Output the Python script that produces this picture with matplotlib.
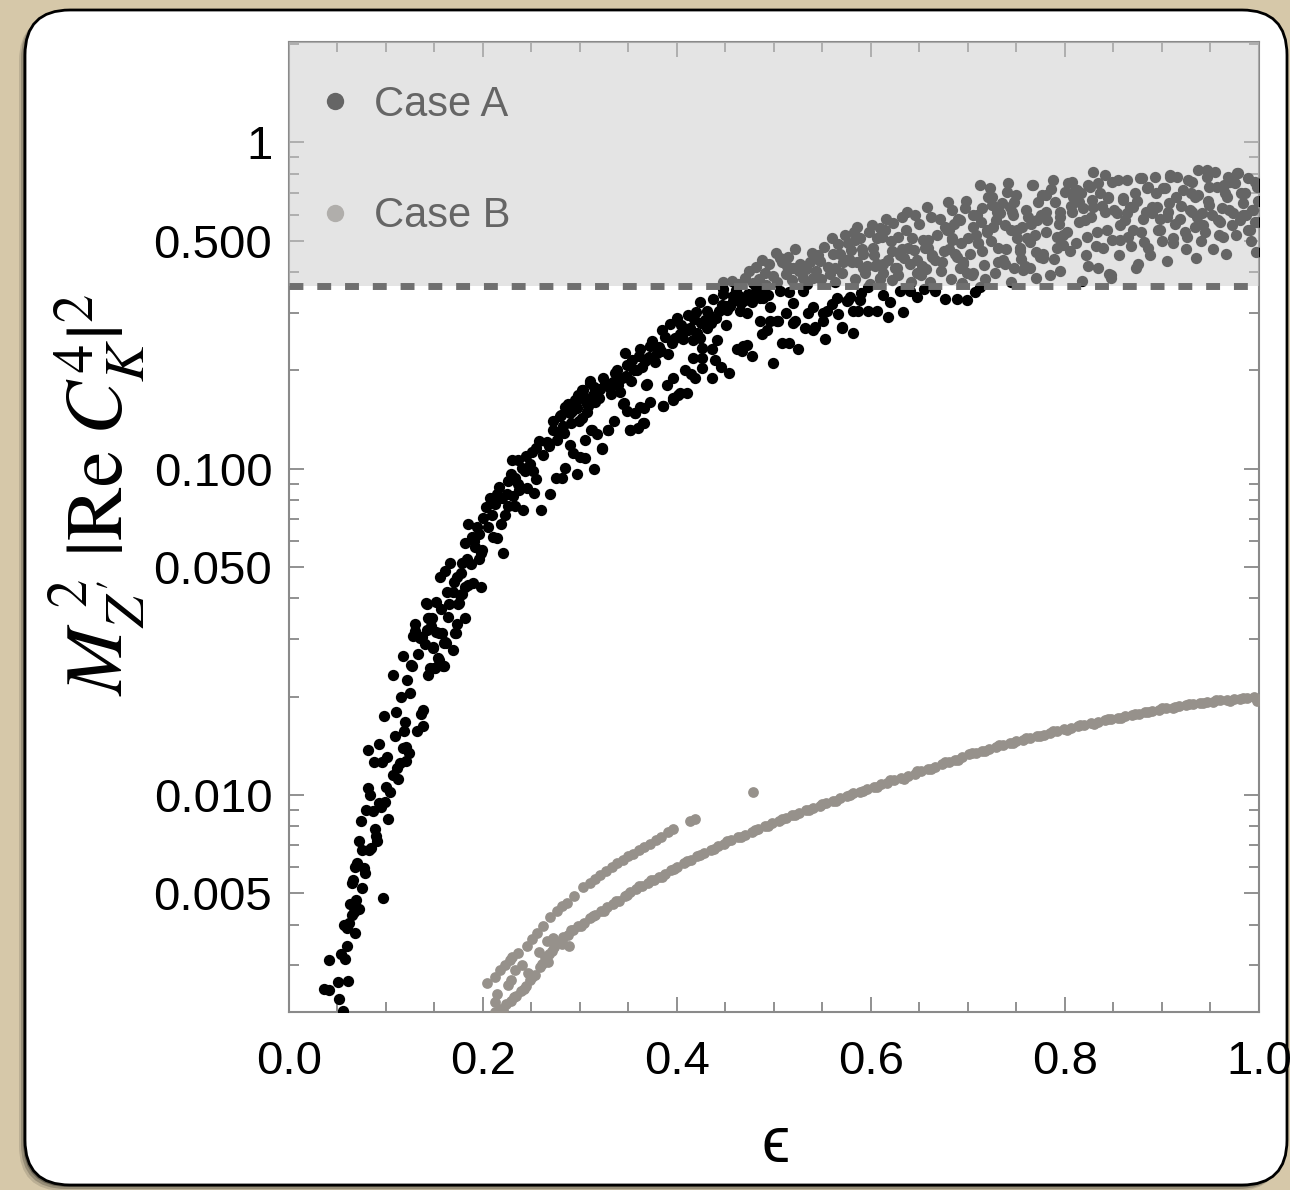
import matplotlib
matplotlib.use("Agg")
import matplotlib.pyplot as plt
from matplotlib.patches import FancyBboxPatch
from matplotlib.lines import Line2D
from matplotlib.ticker import MultipleLocator, LogLocator, NullFormatter, FixedFormatter, FixedLocator

plt.rcParams['font.family'] = ['Liberation Sans', 'DejaVu Sans']
plt.rcParams['mathtext.fontset'] = 'stix'

# ---- data: (epsilon, M^2 |Re C_K^4|^2) ----
case_a_low = [
    (0.036, 0.00254), (0.041, 0.00252), (0.052, 0.00237), (0.056, 0.00217), (0.051, 0.00267), (0.061, 0.00269),
    (0.041, 0.00312), (0.054, 0.00326), (0.058, 0.00315), (0.060, 0.00344), (0.068, 0.00377), (0.060, 0.00391),
    (0.062, 0.00405), (0.065, 0.00428), (0.067, 0.00437), (0.072, 0.00447), (0.063, 0.00464), (0.069, 0.00477),
    (0.097, 0.00483), (0.075, 0.00518), (0.065, 0.00537), (0.066, 0.00549), (0.078, 0.00574), (0.077, 0.00596),
    (0.070, 0.00617), (0.083, 0.00678), (0.075, 0.00678), (0.085, 0.00688), (0.072, 0.00720), (0.091, 0.00723),
    (0.089, 0.00786), (0.090, 0.00748), (0.074, 0.00833), (0.102, 0.00846), (0.087, 0.00895), (0.095, 0.00915),
    (0.099, 0.00953), (0.093, 0.00945), (0.081, 0.0105), (0.100, 0.0106), (0.104, 0.0102), (0.107, 0.0115),
    (0.112, 0.0112), (0.111, 0.0121), (0.114, 0.0125), (0.121, 0.0127), (0.088, 0.0126), (0.096, 0.0126),
    (0.101, 0.0131), (0.082, 0.0137), (0.093, 0.0143), (0.118, 0.0139), (0.124, 0.0134), (0.121, 0.0140),
    (0.109, 0.0151), (0.119, 0.0157), (0.132, 0.0157), (0.138, 0.0162), (0.136, 0.0177), (0.120, 0.0167),
    (0.098, 0.0174), (0.138, 0.0182), (0.125, 0.0205), (0.107, 0.0233), (0.127, 0.0249), (0.118, 0.0266),
    (0.143, 0.0233), (0.150, 0.0244), (0.155, 0.0259), (0.160, 0.0249), (0.149, 0.0282), (0.169, 0.0278),
    (0.162, 0.0292), (0.142, 0.0385), (0.152, 0.0391), (0.165, 0.0385), (0.174, 0.0385), (0.169, 0.0418),
    (0.176, 0.0411), (0.181, 0.0435), (0.190, 0.0445), (0.198, 0.0435), (0.143, 0.0348), (0.147, 0.0348),
    (0.164, 0.0351), (0.173, 0.0334), (0.182, 0.0348), (0.171, 0.0313), (0.155, 0.0313), (0.130, 0.0318),
    (0.128, 0.0307), (0.135, 0.0303), (0.148, 0.0283), (0.160, 0.0293), (0.145, 0.0245), (0.151, 0.0245),
    (0.159, 0.0249), (0.126, 0.0250), (0.154, 0.0262), (0.161, 0.0294), (0.172, 0.0313), (0.130, 0.0334),
    (0.131, 0.0311), (0.137, 0.0304), (0.142, 0.0321), (0.152, 0.0316), (0.158, 0.0313), (0.144, 0.0349),
    (0.141, 0.0388), (0.175, 0.0388), (0.178, 0.0412), (0.156, 0.0465), (0.161, 0.0487), (0.166, 0.0513),
    (0.173, 0.0465), (0.185, 0.0439), (0.178, 0.0513), (0.188, 0.0509), (0.196, 0.0528), (0.182, 0.0593),
    (0.192, 0.0575), (0.199, 0.0562), (0.189, 0.0616), (0.196, 0.0631), (0.185, 0.0677), (0.194, 0.0660),
    (0.198, 0.0552),
    (0.110, 0.0180), (0.115, 0.0200), (0.122, 0.0225), (0.133, 0.0270), (0.140, 0.0290), (0.146, 0.0330),
    (0.157, 0.0370), (0.163, 0.0420), (0.170, 0.0450), (0.177, 0.0480), (0.184, 0.0530), (0.191, 0.0600),
    (0.079, 0.0090), (0.084, 0.0100), (0.068, 0.0060), (0.057, 0.0040),
]

case_a_mid = [
    (0.200, 0.0707), (0.205, 0.0660), (0.210, 0.0616), (0.214, 0.0614), (0.221, 0.0552), (0.219, 0.0677),
    (0.207, 0.0814), (0.214, 0.0838), (0.212, 0.0781), (0.220, 0.0813), (0.226, 0.0766), (0.233, 0.0766),
    (0.241, 0.0748), (0.226, 0.0918), (0.225, 0.0838), (0.231, 0.0826), (0.237, 0.0859), (0.245, 0.0875),
    (0.253, 0.0841), (0.260, 0.0748), (0.233, 0.0937), (0.240, 0.1001), (0.230, 0.1066), (0.236, 0.1066),
    (0.244, 0.1090), (0.251, 0.1123), (0.255, 0.0929), (0.269, 0.0838), (0.275, 0.0937), (0.282, 0.0937),
    (0.285, 0.1005), (0.297, 0.0963), (0.293, 0.1114), (0.300, 0.1085), (0.305, 0.1075), (0.315, 0.1000),
    (0.323, 0.1151), (0.312, 0.1310), (0.329, 0.1310), (0.352, 0.1310), (0.360, 0.1335), (0.366, 0.1384),
    (0.357, 0.1477), (0.366, 0.1529), (0.386, 0.1554), (0.396, 0.1628), (0.401, 0.1675), (0.345, 0.1589),
    (0.341, 0.1715), (0.369, 0.1812), (0.255, 0.1155), (0.258, 0.1218), (0.266, 0.1203), (0.272, 0.1315),
    (0.278, 0.1281), (0.284, 0.1281), (0.272, 0.1404), (0.279, 0.1453), (0.290, 0.1477), (0.297, 0.1529),
    (0.302, 0.1433), (0.307, 0.1486), (0.296, 0.1617), (0.305, 0.1641), (0.313, 0.1675), (0.321, 0.1748),
    (0.310, 0.1828), (0.302, 0.1737), (0.326, 0.1828), (0.334, 0.1840),
    (0.285, 0.154), (0.295, 0.162), (0.303, 0.174), (0.310, 0.186), (0.320, 0.165), (0.327, 0.182),
    (0.336, 0.196), (0.346, 0.226), (0.354, 0.215), (0.362, 0.233), (0.372, 0.238), (0.379, 0.226),
    (0.385, 0.265), (0.393, 0.278), (0.400, 0.289), (0.403, 0.259), (0.411, 0.295), (0.420, 0.301),
    (0.424, 0.323), (0.431, 0.305), (0.437, 0.332), (0.447, 0.344), (0.458, 0.339), (0.451, 0.316),
    (0.465, 0.305), (0.472, 0.299), (0.477, 0.323), (0.486, 0.334), (0.496, 0.312), (0.482, 0.359),
    (0.506, 0.351), (0.516, 0.347), (0.520, 0.321), (0.530, 0.351), (0.540, 0.312), (0.555, 0.305),
    (0.565, 0.334), (0.575, 0.327), (0.582, 0.305), (0.522, 0.284), (0.532, 0.269), (0.540, 0.265),
    (0.551, 0.299), (0.553, 0.250), (0.570, 0.269), (0.582, 0.261), (0.486, 0.284), (0.496, 0.284),
    (0.504, 0.284), (0.488, 0.259), (0.516, 0.242), (0.525, 0.232), (0.508, 0.242), (0.499, 0.211),
    (0.462, 0.233), (0.468, 0.238), (0.477, 0.221), (0.467, 0.230), (0.454, 0.197), (0.436, 0.189),
    (0.419, 0.189), (0.410, 0.170), (0.396, 0.190), (0.426, 0.204), (0.439, 0.215), (0.426, 0.219),
    (0.417, 0.219), (0.408, 0.200), (0.386, 0.155), (0.396, 0.164), (0.403, 0.170), (0.365, 0.138),
    (0.357, 0.148), (0.362, 0.154), (0.352, 0.131), (0.368, 0.181), (0.344, 0.158), (0.329, 0.131),
    (0.311, 0.131), (0.323, 0.116), (0.424, 0.252), (0.431, 0.270), (0.441, 0.247), (0.426, 0.235),
    (0.436, 0.233), (0.451, 0.275), (0.411, 0.265), (0.417, 0.247),
    (0.280, 0.146), (0.288, 0.158), (0.292, 0.150), (0.298, 0.168), (0.306, 0.160), (0.314, 0.178),
    (0.318, 0.170), (0.324, 0.189), (0.331, 0.176), (0.338, 0.200), (0.343, 0.190), (0.349, 0.208),
    (0.356, 0.201), (0.361, 0.222), (0.367, 0.214), (0.374, 0.246), (0.381, 0.236), (0.388, 0.254),
    (0.395, 0.243), (0.404, 0.276), (0.410, 0.268), (0.418, 0.287), (0.425, 0.280), (0.433, 0.296),
    (0.440, 0.289), (0.446, 0.318), (0.452, 0.306), (0.458, 0.327), (0.466, 0.322), (0.473, 0.344),
    (0.480, 0.338), (0.489, 0.350), (0.494, 0.341), (0.447, 0.355), (0.461, 0.352),
    (0.578, 0.335), (0.589, 0.328), (0.597, 0.359), (0.620, 0.323), (0.640, 0.351), (0.647, 0.335),
    (0.666, 0.351), (0.676, 0.332), (0.689, 0.332), (0.699, 0.328), (0.707, 0.347), (0.712, 0.360),
    (0.489, 0.334), (0.503, 0.284), (0.566, 0.298), (0.551, 0.284), (0.576, 0.328), (0.587, 0.305),
    (0.597, 0.305), (0.606, 0.305), (0.618, 0.291), (0.633, 0.301), (0.520, 0.280), (0.542, 0.271),
    (0.570, 0.271),
    (0.203, 0.0760), (0.209, 0.0720), (0.217, 0.0880), (0.223, 0.0720), (0.229, 0.0960), (0.236, 0.0900),
    (0.243, 0.0980), (0.248, 0.1030), (0.252, 0.0980), (0.262, 0.1100), (0.268, 0.1170), (0.276, 0.1220),
    (0.283, 0.1350), (0.291, 0.1380), (0.299, 0.1400), (0.308, 0.1550), (0.316, 0.1600), (0.332, 0.1690),
    (0.339, 0.1810), (0.347, 0.1920), (0.353, 0.1850), (0.359, 0.2000), (0.364, 0.2050), (0.371, 0.2200),
    (0.377, 0.2120), (0.384, 0.2300), (0.391, 0.2250), (0.398, 0.2520), (0.406, 0.2490), (0.413, 0.2700),
    (0.421, 0.2600), (0.429, 0.2850), (0.435, 0.2800), (0.443, 0.3050), (0.455, 0.3150), (0.464, 0.3380),
    (0.470, 0.3280), (0.484, 0.3500),
    (0.290, 0.118), (0.305, 0.122), (0.318, 0.128), (0.335, 0.140), (0.348, 0.150), (0.372, 0.160),
    (0.390, 0.180), (0.414, 0.195), (0.445, 0.205), (0.472, 0.240), (0.493, 0.265), (0.512, 0.300),
    (0.535, 0.300), (0.560, 0.320), (0.590, 0.345), (0.612, 0.340), (0.630, 0.350), (0.655, 0.355),
]

case_a_high = [
    (0.491, 0.399), (0.508, 0.429), (0.513, 0.419), (0.520, 0.413), (0.522, 0.472), (0.527, 0.425),
    (0.537, 0.429), (0.539, 0.459), (0.545, 0.450), (0.530, 0.385), (0.540, 0.385), (0.560, 0.508),
    (0.561, 0.456), (0.568, 0.456), (0.563, 0.413), (0.573, 0.519), (0.576, 0.490), (0.586, 0.549),
    (0.589, 0.508), (0.580, 0.429), (0.586, 0.429), (0.601, 0.556), (0.606, 0.508), (0.609, 0.545),
    (0.616, 0.584), (0.623, 0.564), (0.596, 0.419), (0.606, 0.425), (0.609, 0.385), (0.628, 0.512),
    (0.637, 0.610), (0.645, 0.597), (0.632, 0.472), (0.627, 0.413), (0.640, 0.425), (0.647, 0.399),
    (0.658, 0.632), (0.654, 0.501), (0.659, 0.476), (0.663, 0.444), (0.671, 0.584), (0.676, 0.549),
    (0.681, 0.537), (0.679, 0.655), (0.684, 0.619), (0.692, 0.576), (0.684, 0.501), (0.689, 0.444),
    (0.695, 0.425), (0.699, 0.399), (0.705, 0.399), (0.697, 0.628), (0.705, 0.597), (0.712, 0.738),
    (0.723, 0.722), (0.715, 0.628), (0.710, 0.490), (0.720, 0.537), (0.725, 0.678), (0.726, 0.549),
    (0.733, 0.606), (0.731, 0.429), (0.738, 0.425), (0.740, 0.702), (0.741, 0.749), (0.745, 0.610),
    (0.748, 0.654), (0.751, 0.537), (0.754, 0.476), (0.757, 0.405), (0.761, 0.508), (0.764, 0.413),
    (0.767, 0.738), (0.771, 0.576), (0.774, 0.444), (0.777, 0.456), (0.781, 0.688), (0.785, 0.391),
    (0.788, 0.765), (0.792, 0.512), (0.795, 0.589), (0.798, 0.483), (0.803, 0.749), (0.807, 0.610),
    (0.810, 0.712), (0.815, 0.654), (0.821, 0.576), (0.824, 0.419), (0.826, 0.728), (0.829, 0.632),
    (0.834, 0.411), (0.836, 0.697), (0.841, 0.610), (0.844, 0.673), (0.848, 0.385), (0.849, 0.501),
    (0.855, 0.765), (0.857, 0.556), (0.860, 0.664), (0.864, 0.606), (0.865, 0.512), (0.870, 0.632),
    (0.875, 0.425), (0.877, 0.775), (0.880, 0.584), (0.885, 0.722), (0.886, 0.476), (0.890, 0.632),
    (0.893, 0.781), (0.896, 0.537), (0.898, 0.584), (0.903, 0.722), (0.906, 0.610), (0.908, 0.781),
    (0.911, 0.490), (0.915, 0.678), (0.919, 0.584), (0.924, 0.530), (0.927, 0.765), (0.931, 0.610),
    (0.934, 0.678), (0.937, 0.820), (0.942, 0.556), (0.946, 0.781), (0.949, 0.641), (0.953, 0.472),
    (0.957, 0.728), (0.960, 0.568), (0.963, 0.512), (0.967, 0.678), (0.970, 0.754), (0.973, 0.606),
    (0.977, 0.803), (0.980, 0.576), (0.984, 0.650), (0.989, 0.775), (0.991, 0.537), (0.994, 0.619),
    (0.998, 0.728), (0.996, 0.568),
    (0.584, 0.501), (0.591, 0.472), (0.592, 0.456), (0.602, 0.476), (0.604, 0.419), (0.609, 0.382),
    (0.611, 0.512), (0.612, 0.425), (0.622, 0.466), (0.625, 0.413), (0.628, 0.391), (0.632, 0.589),
    (0.638, 0.476), (0.642, 0.508), (0.648, 0.435), (0.653, 0.419), (0.656, 0.476), (0.659, 0.501),
    (0.663, 0.450), (0.666, 0.435), (0.675, 0.466), (0.678, 0.537), (0.684, 0.508), (0.687, 0.456),
    (0.690, 0.584), (0.692, 0.413), (0.695, 0.429), (0.700, 0.508), (0.704, 0.391), (0.705, 0.549),
    (0.709, 0.597), (0.710, 0.490), (0.715, 0.466), (0.720, 0.530), (0.721, 0.678), (0.725, 0.641),
    (0.730, 0.610), (0.731, 0.476), (0.736, 0.435), (0.738, 0.556), (0.743, 0.632), (0.746, 0.597),
    (0.748, 0.411), (0.751, 0.508), (0.754, 0.466), (0.756, 0.549), (0.759, 0.419), (0.762, 0.589),
    (0.764, 0.494), (0.766, 0.738), (0.769, 0.519), (0.772, 0.654), (0.776, 0.688), (0.777, 0.441),
    (0.781, 0.610), (0.782, 0.576), (0.790, 0.654), (0.792, 0.476), (0.795, 0.610), (0.798, 0.519),
    (0.800, 0.702), (0.805, 0.466), (0.807, 0.754), (0.808, 0.678), (0.812, 0.712), (0.815, 0.568),
    (0.819, 0.628), (0.823, 0.512), (0.824, 0.738), (0.828, 0.664), (0.829, 0.809), (0.833, 0.530),
    (0.834, 0.749), (0.839, 0.476), (0.841, 0.792), (0.844, 0.678), (0.848, 0.391), (0.849, 0.754),
    (0.854, 0.606), (0.857, 0.501), (0.860, 0.673), (0.864, 0.765), (0.867, 0.632), (0.870, 0.537),
    (0.872, 0.697), (0.879, 0.775), (0.882, 0.494), (0.886, 0.728), (0.890, 0.606), (0.895, 0.632),
    (0.898, 0.537), (0.901, 0.722), (0.905, 0.589), (0.908, 0.792), (0.911, 0.508), (0.916, 0.781),
    (0.922, 0.712), (0.926, 0.512), (0.929, 0.619), (0.931, 0.754), (0.934, 0.549), (0.937, 0.688),
    (0.941, 0.606), (0.944, 0.530), (0.946, 0.820), (0.949, 0.728), (0.955, 0.809), (0.958, 0.576),
    (0.962, 0.628), (0.965, 0.697), (0.968, 0.781), (0.972, 0.556), (0.975, 0.749), (0.978, 0.803),
    (0.984, 0.597), (0.986, 0.697), (0.989, 0.537), (0.993, 0.619), (0.996, 0.754), (0.998, 0.568),
    (0.448, 0.372), (0.457, 0.376), (0.463, 0.368), (0.470, 0.385), (0.474, 0.402), (0.482, 0.415),
    (0.488, 0.437), (0.495, 0.425), (0.502, 0.458), (0.506, 0.441), (0.478, 0.371), (0.485, 0.380),
    (0.492, 0.366), (0.499, 0.388), (0.503, 0.372), (0.512, 0.395), (0.519, 0.378), (0.526, 0.403),
    (0.534, 0.368), (0.543, 0.402), (0.549, 0.381), (0.556, 0.414), (0.563, 0.372), (0.570, 0.397),
    (0.577, 0.440), (0.584, 0.382), (0.592, 0.411), (0.599, 0.368), (0.612, 0.398), (0.622, 0.379),
    (0.634, 0.441), (0.641, 0.372), (0.652, 0.392), (0.661, 0.373), (0.672, 0.404), (0.683, 0.381),
    (0.694, 0.371), (0.718, 0.382), (0.728, 0.398), (0.744, 0.372), (0.770, 0.384), (0.795, 0.402),
    (0.818, 0.377), (0.845, 0.396), (0.873, 0.412), (0.905, 0.433), (0.935, 0.443), (0.966, 0.455),
    (0.997, 0.462),
    (0.515, 0.445), (0.533, 0.408), (0.548, 0.432), (0.552, 0.478), (0.558, 0.395), (0.566, 0.488),
    (0.571, 0.430), (0.579, 0.468), (0.583, 0.530), (0.594, 0.398), (0.598, 0.530), (0.603, 0.452),
    (0.614, 0.540), (0.618, 0.436), (0.621, 0.500), (0.630, 0.450), (0.636, 0.540), (0.644, 0.468),
    (0.650, 0.560), (0.657, 0.410), (0.662, 0.590), (0.668, 0.520), (0.673, 0.430), (0.680, 0.470),
    (0.686, 0.560), (0.693, 0.490), (0.698, 0.660), (0.702, 0.455), (0.708, 0.520), (0.713, 0.570),
    (0.717, 0.420), (0.724, 0.500), (0.729, 0.580), (0.735, 0.650), (0.739, 0.470), (0.744, 0.540),
    (0.750, 0.690), (0.755, 0.440), (0.760, 0.620), (0.765, 0.560), (0.770, 0.460), (0.775, 0.600),
    (0.780, 0.530), (0.786, 0.720), (0.789, 0.440), (0.794, 0.560), (0.802, 0.530), (0.806, 0.640),
    (0.811, 0.490), (0.817, 0.700), (0.822, 0.450), (0.827, 0.590), (0.832, 0.480), (0.838, 0.640),
    (0.843, 0.540), (0.851, 0.620), (0.856, 0.450), (0.862, 0.580), (0.868, 0.480), (0.874, 0.660),
    (0.878, 0.530), (0.884, 0.610), (0.888, 0.450), (0.894, 0.700), (0.900, 0.500), (0.907, 0.650),
    (0.913, 0.560), (0.920, 0.640), (0.925, 0.470), (0.930, 0.700), (0.936, 0.590), (0.940, 0.500),
    (0.947, 0.660), (0.952, 0.600), (0.959, 0.520), (0.964, 0.740), (0.969, 0.620), (0.976, 0.520),
    (0.982, 0.700), (0.987, 0.600), (0.992, 0.500), (0.999, 0.660),
]

case_b_main = [
    (0.212, 0.00216), (0.218, 0.00221), (0.224, 0.00228), (0.229, 0.00233), (0.234, 0.00242), (0.239, 0.00250),
    (0.244, 0.00259), (0.249, 0.00271), (0.254, 0.00280), (0.259, 0.00297), (0.264, 0.00310), (0.268, 0.00326),
    (0.273, 0.00342), (0.278, 0.00355), (0.283, 0.00366), (0.288, 0.00373), (0.293, 0.00384), (0.298, 0.00395),
    (0.304, 0.00405), (0.310, 0.00418), (0.316, 0.00428), (0.322, 0.00441), (0.328, 0.00452), (0.334, 0.00462),
    (0.340, 0.00474), (0.346, 0.00490), (0.352, 0.00505), (0.358, 0.00516), (0.364, 0.00527), (0.370, 0.00536),
    (0.376, 0.00548), (0.382, 0.00560), (0.388, 0.00570), (0.394, 0.00588), (0.400, 0.00601), (0.407, 0.00616),
    (0.414, 0.00630), (0.421, 0.00648), (0.428, 0.00662), (0.435, 0.00679), (0.442, 0.00696), (0.449, 0.00708),
    (0.456, 0.00725), (0.463, 0.00741), (0.470, 0.00755), (0.477, 0.00772), (0.484, 0.00785), (0.491, 0.00800),
    (0.498, 0.00818), (0.505, 0.00832), (0.512, 0.00848), (0.519, 0.00866), (0.526, 0.00878), (0.533, 0.00896),
    (0.540, 0.00912), (0.547, 0.00925), (0.554, 0.00945), (0.561, 0.00958), (0.568, 0.00975), (0.575, 0.00990),
    (0.582, 0.0101), (0.589, 0.0102), (0.596, 0.0104), (0.603, 0.0106), (0.610, 0.0108), (0.617, 0.0109),
    (0.624, 0.0111), (0.631, 0.0113), (0.638, 0.0114), (0.645, 0.0116), (0.652, 0.0118), (0.659, 0.0120),
    (0.666, 0.0122), (0.673, 0.0124), (0.680, 0.0126), (0.687, 0.0128), (0.694, 0.0131), (0.701, 0.0133),
    (0.708, 0.0134), (0.715, 0.0136), (0.722, 0.0138), (0.729, 0.0140), (0.736, 0.0142), (0.743, 0.0144),
    (0.750, 0.0146), (0.757, 0.0147), (0.764, 0.0149), (0.771, 0.0151), (0.778, 0.0153), (0.785, 0.0155),
    (0.792, 0.0157), (0.799, 0.0159), (0.806, 0.0160), (0.813, 0.0162), (0.820, 0.0164), (0.827, 0.0166),
    (0.834, 0.0167), (0.841, 0.0169), (0.848, 0.0171), (0.855, 0.0172), (0.862, 0.0174), (0.869, 0.0176),
    (0.876, 0.0177), (0.883, 0.0179), (0.890, 0.0181), (0.897, 0.0182), (0.904, 0.0184), (0.911, 0.0185),
    (0.918, 0.0187), (0.925, 0.0188), (0.932, 0.0190), (0.939, 0.0191), (0.946, 0.0192), (0.953, 0.0193),
    (0.960, 0.0195), (0.967, 0.0195), (0.974, 0.0196), (0.981, 0.0197), (0.988, 0.0198), (0.995, 0.0199),
    (1.000, 0.0197),
    (0.221, 0.00219), (0.232, 0.00240), (0.242, 0.00254), (0.251, 0.00276), (0.261, 0.00303), (0.271, 0.00333),
    (0.281, 0.00357), (0.291, 0.00384), (0.301, 0.00396), (0.313, 0.00425), (0.325, 0.00442), (0.337, 0.00472),
    (0.349, 0.00493), (0.361, 0.00524), (0.373, 0.00547), (0.385, 0.00561), (0.397, 0.00591), (0.410, 0.00628),
    (0.424, 0.00652), (0.438, 0.00683), (0.452, 0.00720), (0.466, 0.00744), (0.480, 0.00782), (0.494, 0.00802),
    (0.508, 0.00846), (0.522, 0.00869), (0.536, 0.00896), (0.550, 0.00940), (0.564, 0.00956), (0.578, 0.0100),
    (0.592, 0.0103), (0.606, 0.0106), (0.620, 0.0111), (0.634, 0.0112), (0.648, 0.0118), (0.662, 0.0120),
    (0.676, 0.0126), (0.690, 0.0128), (0.704, 0.0134), (0.718, 0.0136), (0.732, 0.0142), (0.746, 0.0144),
    (0.760, 0.0149), (0.774, 0.0151), (0.788, 0.0157), (0.802, 0.0158), (0.816, 0.0164), (0.830, 0.0165),
    (0.844, 0.0171), (0.858, 0.0172), (0.872, 0.0177), (0.886, 0.0179), (0.900, 0.0184), (0.914, 0.0186),
    (0.928, 0.0190), (0.942, 0.0191), (0.956, 0.0195), (0.970, 0.0194), (0.984, 0.0198), (0.998, 0.0194),
]

case_b_upper = [
    (0.204, 0.00265), (0.212, 0.00276), (0.218, 0.00290), (0.223, 0.00300), (0.228, 0.00312), (0.236, 0.00328),
    (0.245, 0.00344), (0.251, 0.00362), (0.256, 0.00378), (0.262, 0.00395), (0.269, 0.00423), (0.276, 0.00440),
    (0.282, 0.00455), (0.287, 0.00467), (0.294, 0.00490), (0.303, 0.00522), (0.310, 0.00538), (0.316, 0.00552),
    (0.321, 0.00566), (0.327, 0.00583), (0.333, 0.00603), (0.338, 0.00617), (0.344, 0.00632), (0.350, 0.00648),
    (0.355, 0.00660), (0.361, 0.00676), (0.366, 0.00692), (0.372, 0.00708), (0.378, 0.00726), (0.384, 0.00745),
    (0.391, 0.00770), (0.396, 0.00784), (0.413, 0.00832), (0.419, 0.00845), (0.478, 0.0102),
    (0.212, 0.00231), (0.230, 0.00318), (0.233, 0.00290), (0.246, 0.00285), (0.264, 0.00318), (0.267, 0.00308),
    (0.266, 0.00357), (0.272, 0.00365), (0.282, 0.00350), (0.289, 0.00344), (0.240, 0.00300), (0.258, 0.00330),
    (0.226, 0.00262), (0.215, 0.00245), (0.229, 0.00270),
]

ytick_vals = [0.005, 0.01, 0.05, 0.1, 0.5, 1]
ytick_labels = ["0.005", "0.010", "0.050", "0.100", "0.500", "1"]
excluded_level = 0.362

case_a = case_a_low + case_a_mid + case_a_high
case_b = case_b_main + case_b_upper
a_eps, a_val = zip(*case_a)
b_eps, b_val = zip(*case_b)

col_a = "black"
col_b = "#96918b"

fig = plt.figure(figsize=(12.9, 11.9), dpi=100)
fig.patch.set_facecolor("#d6c8a9")

# rounded white card with a soft shadow
for off, a in [(0.06, 0.12), (0.04, 0.2), (0.02, 0.3)]:
    sh = FancyBboxPatch((0.25 - off, 0.05 - off), 12.62, 11.75,
                        boxstyle="round,pad=0,rounding_size=0.45",
                        transform=fig.dpi_scale_trans, facecolor="black",
                        edgecolor="none", alpha=a, zorder=-5)
    fig.add_artist(sh)
card = FancyBboxPatch((0.25, 0.05), 12.62, 11.75,
                      boxstyle="round,pad=0,rounding_size=0.45",
                      transform=fig.dpi_scale_trans, facecolor="white",
                      edgecolor="black", linewidth=2, zorder=-4)
fig.add_artist(card)

ax = fig.add_axes([0.2240, 0.1496, 0.7519, 0.8151])
ax.set_facecolor("white")
ax.set_yscale("log")
ax.set_xlim(0, 1)
ax.set_ylim(0.00216, 2.03)

ax.scatter(a_eps, a_val, s=66, c=col_a, linewidths=0, zorder=3)
ax.scatter(b_eps, b_val, s=60, c=col_b, linewidths=0, zorder=3)

handles = [Line2D([], [], ls="none", marker="o", ms=12.5, mfc=col_a, mec="none"),
           Line2D([], [], ls="none", marker="o", ms=12.5, mfc=col_b, mec="none")]
leg = ax.legend(handles, ["Case A", "Case B"], loc="upper left",
                bbox_to_anchor=(0.03, 0.956), frameon=False, fontsize=30,
                handlelength=0.8, handletextpad=0.55, labelspacing=1.72,
                borderpad=0, borderaxespad=0)
leg.set_zorder(5)

# excluded region: translucent gray veil over everything above the bound
ax.axhspan(excluded_level, 10, facecolor="#cbcbcb", alpha=0.5, linewidth=0, zorder=8)
ax.axhline(excluded_level, color="#6f6f6f", lw=5, dashes=(2, 2), zorder=10)

ax.xaxis.set_major_locator(MultipleLocator(0.2))
ax.xaxis.set_minor_locator(MultipleLocator(0.05))
ax.xaxis.set_major_formatter(plt.FuncFormatter(lambda v, p: f"{v:.1f}"))
ax.yaxis.set_major_locator(FixedLocator(ytick_vals))
ax.yaxis.set_major_formatter(FixedFormatter(ytick_labels))
ax.yaxis.set_minor_locator(LogLocator(base=10, subs=(2, 3, 4, 5, 6, 7, 8, 9)))
ax.yaxis.set_minor_formatter(NullFormatter())

ax.tick_params(which="both", direction="in", top=True, right=True,
               color="#888888", width=1.3, labelsize=34)
ax.tick_params(which="major", length=11)
ax.tick_params(which="minor", length=7)
ax.tick_params(axis="x", which="major", pad=20)
ax.tick_params(axis="y", which="major", pad=12)
for sp in ax.spines.values():
    sp.set_color("#8a8a8a")
    sp.set_linewidth(1.5)

fig.text(97 / 1290, 1 - 495 / 1190, r"$M_{Z'}^{\;2}\;|\mathrm{Re}\;C_K^4|^2$",
         rotation=90, fontsize=58, ha="center", va="center")
fig.text(776 / 1290, 1 - 1145 / 1190, "ϵ", fontsize=46, ha="center", va="center")

fig.savefig("out.png", dpi=100, facecolor=fig.get_facecolor())
